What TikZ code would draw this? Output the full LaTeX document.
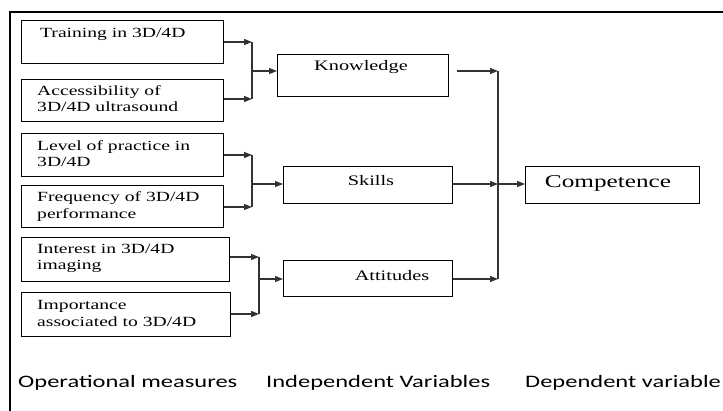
\documentclass[tikz,border=0pt]{standalone}
\usepackage{fontspec}
\usepackage{graphicx}
\setmainfont{Liberation Serif}
\newfontfamily\tnr{Liberation Serif}
\newfontfamily\lblfont{Carlito}
\newcommand\hstretch[1]{\scalebox{1.4}[1]{#1}}
\newcommand\smallstretch[1]{\scalebox{1.352}[0.966]{#1}}
\newcommand\twolines[2]{\smallstretch{\begin{tabular}{@{}l@{}}#1\\#2\end{tabular}}}
\usetikzlibrary{arrows.meta}
\begin{document}
\begin{tikzpicture}[x=1pt,y=-1pt,
 box/.style={draw=black, line width=1.2pt, anchor=north west, inner sep=0pt},
 opm/.style={anchor=west, inner sep=0pt, font=\tnr\fontsize{14.5}{17.1}\selectfont},
 mid/.style={inner sep=0pt, font=\tnr\fontsize{14.5}{17}\selectfont},
 conn/.style={draw=black!80, line width=1.3pt},
 arr/.style={conn, -{Triangle[length=8pt,width=6pt]}},
 caption/.style={anchor=west, inner sep=0pt, font=\lblfont\fontsize{17.5}{20}\selectfont}]
\useasboundingbox (0,0) rectangle (723,411);
\draw[line width=2pt] (10,411) -- (10,12) -- (723,12);

% operational measure boxes
\node[box, minimum width=202pt, minimum height=43pt] (b1) at (21,20) {};
\node[box, minimum width=202pt, minimum height=42pt] (b2) at (21,79) {};
\node[box, minimum width=202pt, minimum height=43pt] (b3) at (21,133) {};
\node[box, minimum width=202pt, minimum height=42pt] (b4) at (21,185) {};
\node[box, minimum width=208pt, minimum height=44pt] (b5) at (21,237) {};
\node[box, minimum width=209pt, minimum height=44pt] (b6) at (21,292) {};
\node[opm] (t1) at (40,34) {\smallstretch{Training in 3D/4D}};
\node[opm] (t2) at (37,100) {\twolines{Accessibility of}{3D/4D ultrasound}};
\node[opm] (t3) at (37,155) {\twolines{Level of practice in}{3D/4D}};
\node[opm] (t4) at (37,206.5) {\twolines{Frequency of 3D/4D}{performance}};
\node[opm] (t5) at (37,258) {\twolines{Interest in 3D/4D}{imaging}};
\node[opm] (t6) at (37,314.5) {\twolines{Importance}{associated to 3D/4D}};

% independent variables
\node[box, minimum width=171pt, minimum height=42pt] (K) at (277,54) {};
\node[box, minimum width=169pt, minimum height=37pt] (S) at (283,166) {};
\node[box, minimum width=169pt, minimum height=36pt] (A) at (283,260) {};
\node[mid] (tK) at (361,67) {\hstretch{Knowledge}};
\node[mid] (tS) at (371,181) {\hstretch{Skills}};
\node[mid] (tA) at (392,276) {\hstretch{Attitudes}};

% dependent variable
\node[box, minimum width=174pt, minimum height=37pt] (C) at (525,166) {};
\node[mid] (tC) at (608,183) {\scalebox{1.74}[1.241]{Competence}};

% captions
\node[caption] (c1) at (18,383) {\hstretch{Operational measures}};
\node[caption] (c2) at (266,383) {\hstretch{Independent Variables}};
\node[caption] (c3) at (525,383) {\hstretch{Dependent variable}};

% junction coordinates
\coordinate (g1a) at (252,42);
\coordinate (g1b) at (252,99);
\coordinate (g1m) at (252,71);
\coordinate (g2a) at (252,155);
\coordinate (g2b) at (252,207);
\coordinate (g2m) at (252,184);
\coordinate (g3a) at (259,257);
\coordinate (g3b) at (259,314);
\coordinate (g3m) at (259,279);
\coordinate (ko) at (457,71);
\coordinate (ra) at (498,71);
\coordinate (rm) at (498,184);
\coordinate (rb) at (498,279);

% group 1
\draw[arr] (b1.east |- g1a) -- (g1a);
\draw[arr] (b2.east |- g1b) -- (g1b);
\draw[conn] (g1a) -- (g1b);
\draw[arr] (g1m) -- (g1m -| K.west);
% group 2
\draw[arr] (b3.east |- g2a) -- (g2a);
\draw[arr] (b4.east |- g2b) -- (g2b);
\draw[conn] (g2a) -- (g2b);
\draw[arr] (g2m) -- (g2m -| S.west);
% group 3
\draw[arr] (b5.east |- g3a) -- (g3a);
\draw[arr] (b6.east |- g3b) -- (g3b);
\draw[conn] (g3a) -- (g3b);
\draw[arr] (g3m) -- (g3m -| A.west);
% to competence
\draw[arr] (ko) -- (ra);
\draw[arr] (S.east |- rm) -- (rm);
\draw[arr] (A.east |- rb) -- (rb);
\draw[conn] (ra) -- (rb);
\draw[arr] (rm) -- (rm -| C.west);
\end{tikzpicture}
\end{document}
